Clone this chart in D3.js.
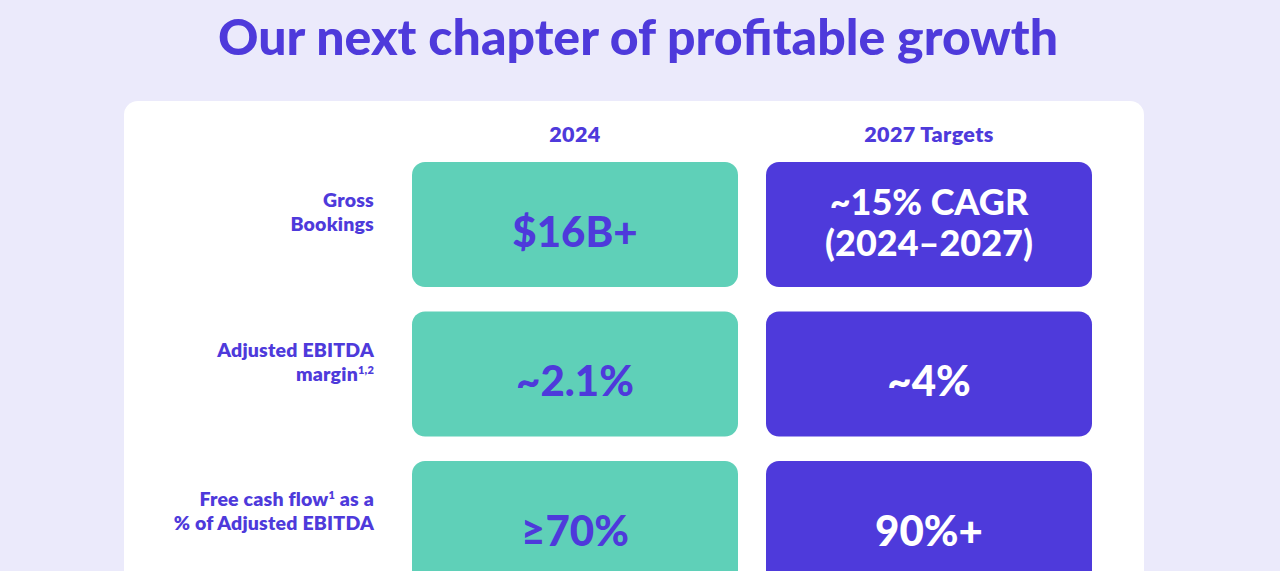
<!DOCTYPE html>
<html><head><meta charset="utf-8">
<script src="https://cdn.jsdelivr.net/npm/d3@7"></script>
<style>html,body{margin:0;padding:0;background:#EBEAFB;overflow:hidden}svg{display:block}</style>
</head><body>
<script>
const title = "Our next chapter of profitable growth";
const columns = ["2024", "2027 Targets"];
const rowLabels = [
  [["Gross"], ["Bookings"]],
  [["Adjusted EBITDA"], ["margin", "1,2"]],
  [["Free cash flow", "1", " as a"], ["% of Adjusted EBITDA"]]
];
const values2024 = [["$16B+"], ["~2.1%"], ["≥70%"]];
const values2027 = [["~15% CAGR", "(2024–2027)"], ["~4%"], ["90%+"]];

const W = 1280, H = 571;
const purple = "#4E3ADB", green = "#5FD0B8", bg = "#EBEAFB";
const font = "Lato, 'Noto Sans', sans-serif";

const svg = d3.select("body").append("svg").attr("width", W).attr("height", H);
svg.append("rect").attr("width", W).attr("height", H).attr("fill", bg);

svg.append("text").attr("x", 638).attr("y", 55).attr("text-anchor", "middle")
  .attr("font-family", font).attr("font-weight", 900).attr("font-size", 50)
  .attr("fill", purple).text(title);

svg.append("rect").attr("x", 124).attr("y", 101).attr("width", 1020).attr("height", 520)
  .attr("rx", 14).attr("fill", "#fff");

const x = d3.scaleBand().domain(columns).range([412, 1092]).paddingInner(28 / 354);
const rowIdx = d3.range(rowLabels.length);
const y = d3.scaleBand().domain(rowIdx).range([162, 586]).paddingInner(24.5 / 149.5);

svg.selectAll("text.col").data(columns).join("text").attr("class", "col")
  .attr("x", d => x(d) + x.bandwidth() / 2).attr("y", 142).attr("text-anchor", "middle")
  .attr("font-family", font).attr("font-weight", 800).attr("font-size", 21.5)
  .attr("letter-spacing", 0.4)
  .attr("fill", purple).text(d => d);

// labels
rowIdx.forEach(i => {
  const t = svg.append("text").attr("text-anchor", "end")
    .attr("font-family", font).attr("font-weight", 800).attr("font-size", 19.5)
    .attr("letter-spacing", 0.2)
    .attr("fill", purple);
  rowLabels[i].forEach((line, li) => {
    const baseY = y(i) + 45 + li * 24;
    line.forEach((seg, si) => {
      const sup = (line.length > 1 && si === 1);
      const ts = t.append("tspan").text(seg);
      if (si === 0) ts.attr("x", 374).attr("y", baseY);
      if (sup) ts.attr("font-size", 11).attr("dy", -7);
      else if (si > 1) ts.attr("dy", 7);
    });
  });
});

const cells = [];
rowIdx.forEach(i => {
  cells.push({col: columns[0], row: i, lines: values2024[i], fill: green, color: purple});
  cells.push({col: columns[1], row: i, lines: values2027[i], fill: purple, color: "#fff"});
});

svg.selectAll("rect.cell").data(cells).join("rect").attr("class", "cell")
  .attr("x", d => x(d.col)).attr("y", d => y(d.row))
  .attr("width", x.bandwidth()).attr("height", y.bandwidth())
  .attr("rx", 13).attr("fill", d => d.fill);

cells.forEach(d => {
  const cx = x(d.col) + x.bandwidth() / 2;
  const cy = y(d.row) + y.bandwidth() / 2;
  const n = d.lines.length;
  const fs = n > 1 ? 36 : 42;
  const lh = 41;
  const off = n > 1 ? 11 : 22;
  const t = svg.append("text").attr("text-anchor", "middle")
    .attr("font-family", font).attr("font-weight", 900).attr("font-size", fs)
    .attr("fill", d.color);
  d.lines.forEach((l, li) => {
    t.append("tspan").attr("x", cx)
      .attr("y", cy + (li - (n - 1) / 2) * lh + off).text(l);
  });
});
</script>
</body></html>
